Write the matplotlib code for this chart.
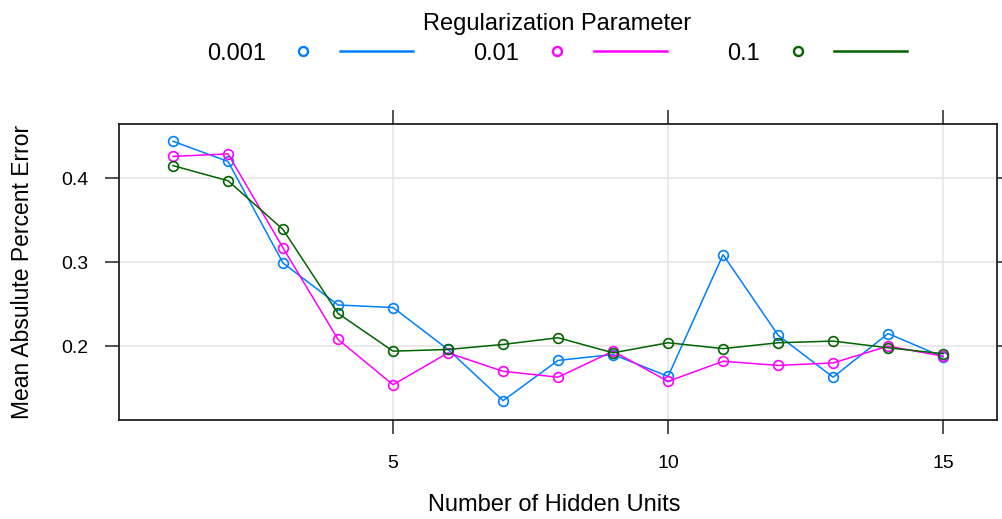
import matplotlib
matplotlib.use("Agg")
import matplotlib.pyplot as plt
from matplotlib.lines import Line2D
from matplotlib.legend_handler import HandlerTuple

plt.rcParams["font.family"] = ["Liberation Sans", "DejaVu Sans"]

# Cross-validated error of a neural network by size and weight decay
hidden_units = list(range(1, 16))
decay_labels = ["0.001", "0.01", "0.1"]
mape_0001 = [0.444, 0.420, 0.299, 0.249, 0.246, 0.196, 0.135, 0.183,
             0.190, 0.164, 0.309, 0.213, 0.163, 0.215, 0.187]
mape_001 = [0.426, 0.429, 0.317, 0.208, 0.154, 0.192, 0.170, 0.163,
            0.194, 0.158, 0.182, 0.177, 0.180, 0.200, 0.188]
mape_01 = [0.415, 0.397, 0.339, 0.239, 0.194, 0.196, 0.202, 0.210,
           0.192, 0.204, 0.197, 0.204, 0.206, 0.198, 0.191]
series = [mape_0001, mape_001, mape_01]
colors = ["#0080ff", "#ff00ff", "#006400"]

fig = plt.figure(figsize=(10.02, 5.19), dpi=100)
ax = fig.add_axes([119 / 1002, 99 / 519, 878 / 1002, 296 / 519])

ax.set_xlim(0.018, 15.98)
ax.set_ylim(0.112, 0.4646)
ax.set_xticks([5, 10, 15])
ax.set_yticks([0.2, 0.3, 0.4])
ax.grid(True, color="#e6e6e6", linewidth=1.2, zorder=0)
ax.set_axisbelow(True)

for vals, col in zip(series, colors):
    ax.plot(hidden_units, vals, color=col, linewidth=1.1, marker="o",
            markersize=7, markerfacecolor="none", markeredgecolor=col,
            markeredgewidth=1.2, zorder=3)

for sp in ax.spines.values():
    sp.set_linewidth(1.3)
    sp.set_color("#222222")

ax.tick_params(axis="both", which="both", direction="out", length=10,
               width=1.1, color="#222222", labelsize=14, top=True, right=True)
ax.tick_params(axis="x", pad=15)
ax.tick_params(axis="y", pad=12)

ax.set_xlabel("Number of Hidden Units", fontsize=17)
ax.set_ylabel("Mean Absulute Percent Error", fontsize=16.5)
ax.xaxis.set_label_coords(0.496, -0.25)
ax.yaxis.set_label_coords(-0.0968, 0.5)

handles = []
for col in colors:
    pt = Line2D([], [], linestyle="none", marker="o", markersize=6.5,
                markerfacecolor="none", markeredgecolor=col, markeredgewidth=1.7)
    ln = Line2D([], [], color=col, linewidth=1.8)
    handles.append((pt, ln))

leg = fig.legend(handles, decay_labels, title="Regularization Parameter",
                 loc="center", bbox_to_anchor=(557 / 1002, 1 - 39 / 519),
                 ncol=3, frameon=False, markerfirst=False, fontsize=17,
                 title_fontsize=17, handlelength=6.2, handletextpad=0.05,
                 columnspacing=2.55, borderaxespad=0, labelspacing=0.3,
                 handler_map={tuple: HandlerTuple(ndivide=None, pad=0.0)})

fig.savefig("out.png", dpi=100)
